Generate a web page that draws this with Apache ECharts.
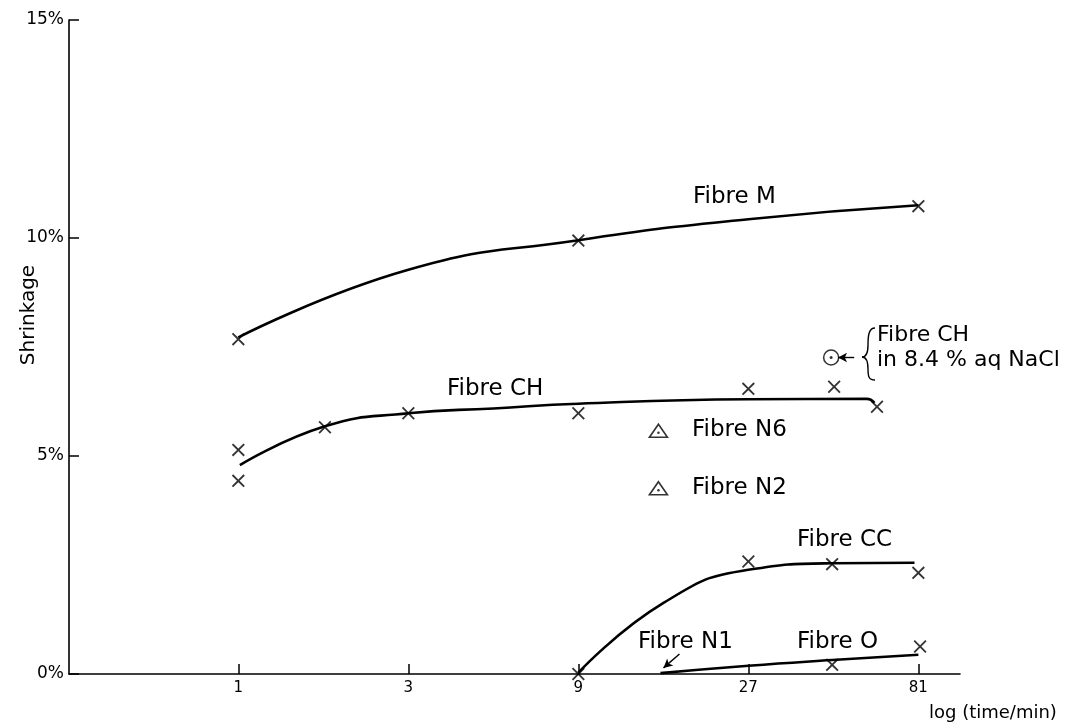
<!DOCTYPE html>
<html><head><meta charset="utf-8">
<script src="https://cdn.jsdelivr.net/npm/echarts@6/dist/echarts.min.js"></script>
<style>html,body{margin:0;padding:0;background:#fff}#c{width:1082px;height:723px}</style>
</head><body><div id="c"></div>
<script>
// ---- data (time in minutes, shrinkage in %) ----
const xTicks = [1, 3, 9, 27, 81];
const yTicks = [0, 5, 10, 15];

const mT = [1, 9, 81];
const mV = [7.68, 9.94, 10.73];
const mCurveT = [1, 3, 9, 27, 81];
const mCurveV = [7.72, 9.27, 9.95, 10.43, 10.75];

const chT = [1, 1, 1.75, 3, 9, 27, 47, 62];
const chV = [5.14, 4.43, 5.66, 5.98, 5.98, 6.54, 6.59, 6.13];
const chCurveT = [1.01, 1.75, 3, 5.2, 9, 27, 58, 61];
const chCurveV = [4.79, 5.68, 5.98, 6.09, 6.2, 6.3, 6.31, 6.22];

const ccT = [9, 27, 46.4, 81];
const ccV = [0, 2.58, 2.52, 2.32];
const ccCurveT = [9, 15.6, 27, 46.8, 79];
const ccCurveV = [0.03, 1.63, 2.39, 2.54, 2.55];

const oT = [46.4, 81.9];
const oV = [0.21, 0.63];
const oCurveT = [15.3, 27, 46.4, 81];
const oCurveV = [0.02, 0.19, 0.32, 0.44];

const n6 = [[15.1, 5.58]];
const n2 = [[15.1, 4.26]];
const n1 = [[14.8, -0.04]];
const chNaCl = [[46.1, 7.26]];

const zip = (a, b) => a.map((v, i) => [v, b[i]]);

// ---- styling ----
const FONT = 'DejaVu Sans';
const INK = '#000';
const CROSS = 'path://M0,1L1,0L5,4L9,0L10,1L6,5L10,9L9,10L5,6L1,10L0,9L4,5Z';

function curve(data) {
  return { type: 'line', data, smooth: 0.5, symbol: 'none',
    lineStyle: { color: INK, width: 2.6 }, z: 2, silent: true };
}
function crosses(data) {
  return { type: 'scatter', data, symbol: CROSS, symbolSize: 13,
    itemStyle: { color: INK }, z: 3, silent: true };
}
function triangles(data) {
  return [
    { type: 'scatter', data, symbol: 'triangle', symbolSize: [18, 13],
      itemStyle: { color: '#fff', borderColor: INK, borderWidth: 1.6 }, z: 4, silent: true },
    { type: 'scatter', data, symbol: 'circle', symbolSize: 2.5, symbolOffset: [0, 2],
      itemStyle: { color: INK }, z: 5, silent: true }
  ];
}
function label(text, x, y, size) {
  return { type: 'text', x, y, silent: true,
    style: { text, fill: INK, font: `${size || 23}px "${FONT}"`, align: 'left', verticalAlign: 'middle' } };
}
function bez(x1, y1, cpx1, cpy1, cpx2, cpy2, x2, y2) {
  return { type: 'bezierCurve', silent: true,
    shape: { x1, y1, cpx1, cpy1, cpx2, cpy2, x2, y2 },
    style: { fill: 'none', stroke: INK, lineWidth: 1.4 } };
}

const arrowLine = { color: INK, width: 1.4, type: 'solid' };

const option = {
  animation: false,
  backgroundColor: '#fff',
  grid: { left: 69, right: 122, top: 20, bottom: 49 },
  xAxis: {
    type: 'log', logBase: 3, min: 0.3348, max: 106,
    axisLine: { onZero: false, lineStyle: { color: INK, width: 1.6 } },
    axisTick: { inside: true, length: 10, customValues: xTicks, lineStyle: { color: INK, width: 1.5 } },
    axisLabel: { customValues: xTicks, color: INK, fontSize: 15, fontFamily: FONT, margin: 7,
      formatter: v => String(v) },
    splitLine: { show: false }, minorTick: { show: false }
  },
  yAxis: {
    type: 'value', min: 0, max: 15, interval: 5,
    axisLine: { show: true, onZero: false, lineStyle: { color: INK, width: 1.6 } },
    axisTick: { show: true, inside: true, length: 10, lineStyle: { color: INK, width: 1.5 } },
    axisLabel: { color: INK, fontSize: 17, fontFamily: FONT, margin: 5,
      formatter: v => v + '%' },
    splitLine: { show: false }
  },
  graphic: [
    { type: 'text', x: 29, y: 315, rotation: Math.PI / 2, silent: true,
      style: { text: 'Shrinkage', fill: INK, font: `20px "${FONT}"`, align: 'center', verticalAlign: 'middle' } },
    label('log (time/min)', 929, 713, 18),
    label('Fibre M', 693, 197),
    label('Fibre CH', 447, 389),
    label('Fibre N6', 692, 430),
    label('Fibre N2', 692, 488),
    label('Fibre CC', 797, 540),
    label('Fibre N1', 638, 642),
    label('Fibre O', 797, 642),
    label('Fibre CH', 877, 335, 22),
    label('in 8.4 % aq NaCl', 877, 360, 22),
    bez(875, 328, 869, 328, 868, 335, 868, 345),
    bez(868, 345, 868, 353, 866, 357, 862, 357),
    bez(862, 357, 866, 357, 868, 361, 868, 369),
    bez(868, 369, 868, 377, 869, 380, 875, 380)
  ],
  series: [
    curve(zip(mCurveT, mCurveV)),
    curve(zip(chCurveT, chCurveV)),
    curve(zip(ccCurveT, ccCurveV)),
    Object.assign(curve(zip(oCurveT, oCurveV)), {
      markLine: { silent: true, symbol: ['none', 'arrow'], symbolSize: [7, 9], label: { show: false },
        lineStyle: arrowLine,
        data: [
          [{ coord: [17.3, 0.46] }, { coord: [15.6, 0.14] }],
          [{ coord: [53.5, 7.26] }, { coord: [48.2, 7.26] }]
        ] }
    }),
    crosses(zip(mT, mV)),
    crosses(zip(chT, chV)),
    crosses(zip(ccT, ccV)),
    crosses(zip(oT, oV)),
    ...triangles(n6),
    ...triangles(n2),
    ...triangles(n1),
    { type: 'scatter', data: chNaCl, symbol: 'circle', symbolSize: 15,
      itemStyle: { color: '#fff', borderColor: INK, borderWidth: 1.5 }, z: 4, silent: true },
    { type: 'scatter', data: chNaCl, symbol: 'circle', symbolSize: 3,
      itemStyle: { color: INK }, z: 5, silent: true }
  ]
};

const chart = echarts.init(document.getElementById('c'), null, { renderer: 'canvas' });
chart.setOption(option);
</script></body></html>
